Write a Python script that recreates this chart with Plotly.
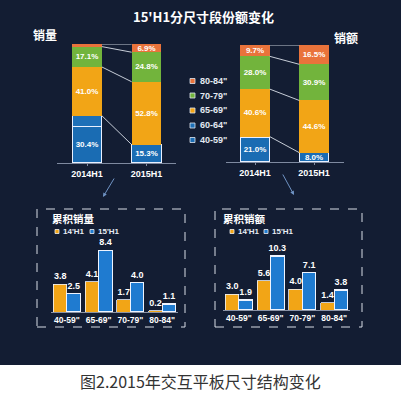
import numpy as np
import plotly.graph_objects as go

# ---------------- data ----------------
periods = ["2014H1", "2015H1"]
segments = ['40-59"', '60-64"', '65-69"', '70-79"', '80-84"']

vol_40_59 = [30.4, 15.3]
vol_60_64 = [9.3, 0.2]
vol_65_69 = [41.0, 52.8]
vol_70_79 = [17.1, 24.8]
vol_80_84 = [2.2, 6.9]

amt_40_59 = [21.0, 8.0]
amt_60_64 = [0.7, 0.0]
amt_65_69 = [40.6, 44.6]
amt_70_79 = [28.0, 30.9]
amt_80_84 = [9.7, 16.5]

cum_categories = ['40-59"', '65-69"', '70-79"', '80-84"']
cum_vol_14 = [3.8, 4.1, 1.7, 0.2]
cum_vol_15 = [2.5, 8.4, 4.0, 1.1]
cum_amt_14 = [3.0, 5.6, 4.0, 1.4]
cum_amt_15 = [1.9, 10.3, 7.1, 3.8]

series_names = ["14'H1", "15'H1"]

# ---------------- styles ----------------
W, H = 406, 394
BG = "#131d33"
C80, C70, C65, C60, C40 = "#e9733b", "#72b43c", "#f2a516", "#1d70b8", "#1a6cb3"
YEL, BLU = "#f2a516", "#1f7bd0"
seg_colors = [C40, C60, C65, C70, C80]
NUMF = "Liberation Sans, Noto Sans CJK SC, sans-serif"
CJKF = "Noto Sans CJK SC, sans-serif"


def px(x):
    return x / W


def py(y):
    return 1 - y / H


fig = go.Figure()


def add_stack(values_list, xa, ya):
    xs = np.arange(len(periods))
    for name, vals, col in zip(segments, values_list, seg_colors):
        show_text = name != '60-64"'
        outline = name in ('40-59"', '60-64"')
        fig.add_trace(go.Bar(
            x=xs, y=vals, width=0.5, name=name, xaxis=xa, yaxis=ya,
            marker=dict(color=col,
                        line=dict(color="#e8f0ff" if outline else col,
                                  width=1.2 if outline else 0)),
            text=[f"{v:.1f}%" for v in vals] if show_text else None,
            textposition="inside", insidetextanchor="middle",
            constraintext="none", textangle=0,
            textfont=dict(family=NUMF, size=8, color="#ffffff", weight="bold"),
            cliponaxis=False, showlegend=False, hoverinfo="skip"))
    cum = np.vstack(values_list).cumsum(axis=0)
    lx, ly = [], []
    for row in cum[1:]:
        lx += [0.25, 0.75, None]
        ly += [row[0], row[1], None]
    fig.add_trace(go.Scatter(x=lx, y=ly, mode="lines", xaxis=xa, yaxis=ya,
                             line=dict(color="rgba(230,236,245,0.85)", width=1),
                             showlegend=False, hoverinfo="skip", cliponaxis=False))


add_stack([vol_40_59, vol_60_64, vol_65_69, vol_70_79, vol_80_84], "x", "y")
add_stack([amt_40_59, amt_60_64, amt_65_69, amt_70_79, amt_80_84], "x2", "y2")


def add_group(v14, v15, xa, ya):
    idx = np.arange(len(cum_categories))
    for name, vals, col, off in zip(series_names, [v14, v15], [YEL, BLU], [-0.2125, 0.2125]):
        fig.add_trace(go.Bar(
            x=idx + off, y=vals, width=0.425, name=name, xaxis=xa, yaxis=ya,
            marker=dict(color=col, line=dict(color="#eef4ff", width=1.2 if col == BLU else 0.8)),
            text=[f"{v:.1f}" for v in vals], textposition="outside",
            constraintext="none",
            textfont=dict(family=NUMF, size=9, color="#ffffff", weight="bold"),
            cliponaxis=False, showlegend=False, hoverinfo="skip"))


add_group(cum_vol_14, cum_vol_15, "x3", "y3")
add_group(cum_amt_14, cum_amt_15, "x4", "y4")

tickf = dict(family=NUMF, size=9, color="#ffffff", weight="bold")
top_x = dict(range=[-0.5, 1.5], tickvals=[0, 1], ticktext=periods, showline=True,
             linecolor="#7f8aa0", linewidth=1, showgrid=False, zeroline=False,
             ticks="outside", ticklen=2, tickcolor="#7f8aa0", tickfont=tickf)
bot_x = dict(range=[-0.5, 3.5], tickvals=list(range(len(cum_categories))),
             ticktext=cum_categories, showline=True, linecolor="#8a93a6", linewidth=1,
             showgrid=False, zeroline=False, ticks="", tickfont=dict(tickf, size=8.5))
hid_y = dict(visible=False, showgrid=False, zeroline=False)

fig.update_layout(
    width=W, height=H, margin=dict(l=0, r=0, t=0, b=0),
    paper_bgcolor="#ffffff", plot_bgcolor="rgba(0,0,0,0)",
    barmode="stack", showlegend=False,
    xaxis=dict(top_x, domain=[px(57.25), px(176.25)], anchor="y"),
    yaxis=dict(hid_y, domain=[py(163), py(44)], range=[0, 100], anchor="x"),
    xaxis2=dict(top_x, domain=[px(225.5), px(343.5)], anchor="y2"),
    yaxis2=dict(hid_y, domain=[py(162), py(45)], range=[0, 100], anchor="x2"),
    xaxis3=dict(bot_x, domain=[px(51), px(178)], anchor="y3"),
    yaxis3=dict(hid_y, domain=[py(312), py(240)], range=[0, 9.8], anchor="x3"),
    xaxis4=dict(bot_x, domain=[px(223), px(350)], anchor="y4"),
    yaxis4=dict(hid_y, domain=[py(310), py(240)], range=[0, 13.36], anchor="x4"),
)

shapes = [
    dict(type="rect", xref="paper", yref="paper", x0=0, x1=px(401), y0=py(365), y1=1,
         fillcolor=BG, line=dict(width=0), layer="below"),
    dict(type="rect", xref="paper", yref="paper", x0=px(37), x1=px(185), y0=py(327), y1=py(209),
         line=dict(color="#d8dde6", width=1, dash="dash"), layer="below"),
    dict(type="rect", xref="paper", yref="paper", x0=px(215), x1=px(362), y0=py(327), y1=py(209),
         line=dict(color="#d8dde6", width=1, dash="dash"), layer="below"),
]

annotations = []


def txt(t, x, y, size, color="#ffffff", family=CJKF, xanchor="center", bold=True):
    annotations.append(dict(text=t, x=px(x), y=py(y), xref="paper", yref="paper",
                            showarrow=False, xanchor=xanchor, yanchor="middle",
                            font=dict(family=family, size=size, color=color,
                                      weight="bold" if bold else "normal")))


txt("15'H1分尺寸段份额变化", 203.5, 17, 13)
txt("销量", 45, 35, 12)
txt("销额", 346, 37, 12)
txt("累积销量", 73.5, 218.5, 10.5)
txt("累积销额", 244, 218.5, 10.5)
txt("图2.2015年交互平板尺寸结构变化", 200, 381, 16, color="#333333", bold=False)

# centre legend
legend_items = list(zip(segments[::-1], [C80, C70, C65, C60, C40]))
legend_y = [81, 95.5, 110.5, 125.5, 140]
for (name, col), yy in zip(legend_items, legend_y):
    shapes.append(dict(type="rect", xref="paper", yref="paper",
                       x0=px(190), x1=px(195), y0=py(yy + 2.5), y1=py(yy - 2.5),
                       fillcolor=col, line=dict(color="#dfe6f0", width=0.8)))
    txt(name, 198, yy, 9, color="#e4e9f2", family=NUMF, xanchor="left")

# small legends of the lower panels
for sx in [(55, 90), (230, 264)]:
    for xx, col, name in zip(sx, [YEL, BLU], series_names):
        shapes.append(dict(type="rect", xref="paper", yref="paper",
                           x0=px(xx), x1=px(xx + 4), y0=py(233.5), y1=py(229.5),
                           fillcolor=col, line=dict(color="#f0f0f0", width=0.8)))
        txt(name, xx + 6, 231.5, 8, color="#e8edf5", family=NUMF, xanchor="left")

# arrows
for hx, hy, tx, ty in [(103, 197, 115, 177), (294, 195, 282, 173)]:
    annotations.append(dict(x=px(hx), y=py(hy), xref="paper", yref="paper",
                            ax=tx - hx, ay=ty - hy, axref="pixel", ayref="pixel",
                            showarrow=True, arrowhead=2, arrowsize=0.8, arrowwidth=1,
                            arrowcolor="#6f93c4", text=""))

fig.update_layout(shapes=shapes, annotations=annotations)
fig.write_html("out.html", config={"displayModeBar": False},
               post_script="document.body.style.margin='0';")
